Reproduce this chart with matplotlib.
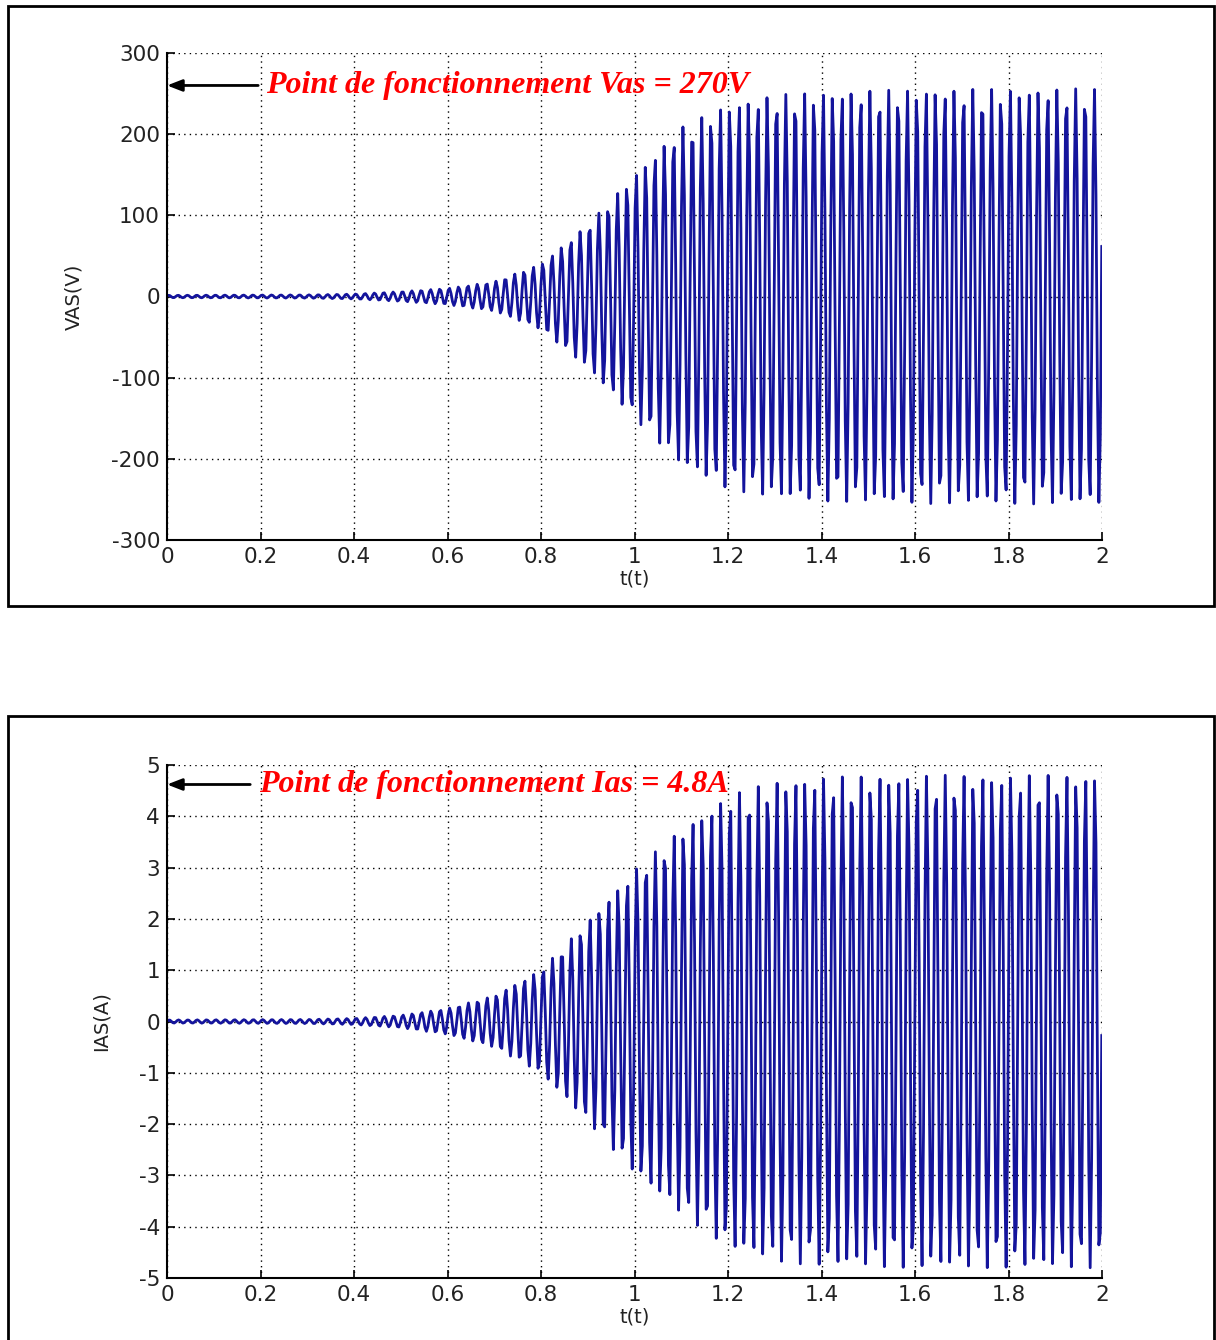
import numpy as np
import matplotlib
matplotlib.use("Agg")
import matplotlib.pyplot as plt
from matplotlib.patches import Rectangle

# envelope knots (time in s, peak amplitude)
T_KNOTS = [0.0, 0.3, 0.4, 0.5, 0.6, 0.7, 0.8, 0.9, 1.0, 1.1, 1.2, 1.3, 1.4, 1.6, 2.0]
VAS_ENV = [1.5, 2.0, 3.0, 6.0, 10.0, 18.0, 40.0, 88.0, 150.0, 208.0, 237.0, 248.0, 252.0, 255.0, 256.0]
IAS_ENV = [0.03, 0.04, 0.06, 0.12, 0.25, 0.5, 1.0, 1.95, 2.95, 3.75, 4.4, 4.68, 4.76, 4.8, 4.8]
F_SUPPLY = 50.0     # Hz
DT = 0.0031         # sampling step of the plotted trace

VAS_TICKS = [-300, -200, -100, 0, 100, 200, 300]
IAS_TICKS = [-5, -4, -3, -2, -1, 0, 1, 2, 3, 4, 5]
T_TICKS = [0, 0.2, 0.4, 0.6, 0.8, 1, 1.2, 1.4, 1.6, 1.8, 2]
T_LABELS = ["0", "0.2", "0.4", "0.6", "0.8", "1", "1.2", "1.4", "1.6", "1.8", "2"]

BLUE = "#14149c"
RED = "#ff0000"

t = np.arange(0, 2.0 + DT / 2, DT)
vas = np.interp(t, T_KNOTS, VAS_ENV) * np.sin(2 * np.pi * F_SUPPLY * t + 0.4)
ias = np.interp(t, T_KNOTS, IAS_ENV) * np.sin(2 * np.pi * F_SUPPLY * t + 0.1)

fig = plt.figure(figsize=(12.16, 13.40), dpi=100)

# frames round each panel
fig.add_artist(Rectangle((8 / 1216, 1 - 606 / 1340), 1206 / 1216, 600 / 1340,
                         transform=fig.transFigure, fill=False, lw=2, ec="black"))
fig.add_artist(Rectangle((8 / 1216, -0.01), 1206 / 1216, 0.01 + 624 / 1340,
                         transform=fig.transFigure, fill=False, lw=2, ec="black"))


def style(ax, yticks, ylabel):
    ax.set_xlim(0, 2)
    ax.set_ylim(yticks[0], yticks[-1])
    ax.set_xticks(T_TICKS)
    ax.set_xticklabels(T_LABELS)
    ax.set_yticks(yticks)
    ax.set_yticklabels([str(v) for v in yticks])
    ax.grid(True, color="black", ls=(0, (1, 3)), lw=1.0)
    for s in ("top", "right"):
        ax.spines[s].set_visible(False)
    for s in ("left", "bottom"):
        ax.spines[s].set_linewidth(1.5)
    ax.tick_params(direction="in", length=6, width=1.2, labelsize=15.5,
                   labelcolor="#222222", pad=5)
    ax.set_xlabel("t(t)", fontsize=14, color="#222222", labelpad=2)
    ax.set_ylabel(ylabel, fontsize=14, color="#222222")


def point_label(ax, x_tail, y, x_text, txt):
    ax.annotate("", xy=(0, y), xytext=(x_tail, y),
                arrowprops=dict(arrowstyle="-|>,head_length=0.9,head_width=0.35",
                                color="black", lw=2, shrinkA=0, shrinkB=0))
    ax.text(x_text, y, txt, color=RED, fontsize=23, fontweight="bold",
            fontstyle="italic", family="Liberation Serif", va="center", ha="left")


ax1 = fig.add_axes([167 / 1216, 1 - 540 / 1340, 935 / 1216, 487 / 1340])
ax1.plot(t, vas, color=BLUE, lw=2.0)
style(ax1, VAS_TICKS, "VAS(V)")
ax1.yaxis.set_label_coords(-0.09, 0.5)
point_label(ax1, 0.195, 260, 0.212, "Point de fonctionnement Vas = 270V")

ax2 = fig.add_axes([167 / 1216, 1 - 1278 / 1340, 935 / 1216, 513 / 1340])
ax2.plot(t, ias, color=BLUE, lw=2.0)
style(ax2, IAS_TICKS, "IAS(A)")
ax2.yaxis.set_label_coords(-0.06, 0.5)
point_label(ax2, 0.178, 4.62, 0.197, "Point de fonctionnement Ias = 4.8A")

fig.savefig("out.png", dpi=100)
